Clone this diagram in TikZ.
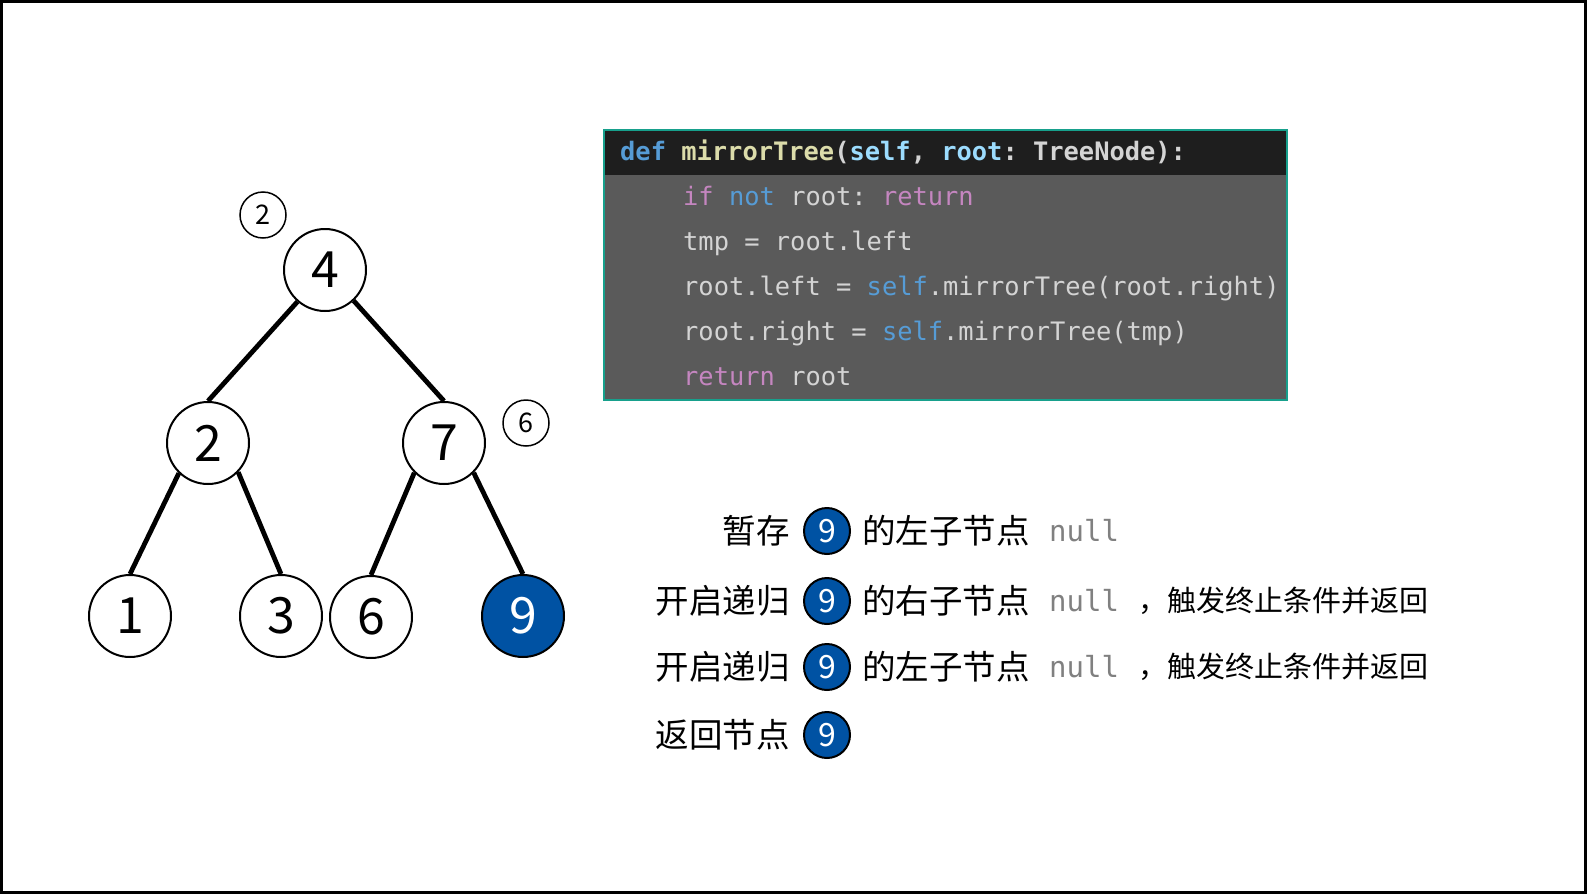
\documentclass[tikz,border=0pt]{standalone}
\usepackage{fontspec}
\setmonofont{DejaVu Sans Mono}
\newfontfamily\cjk{Noto Sans CJK SC}
\definecolor{nodeblue}{HTML}{0052A3}
\definecolor{kwblue}{HTML}{569CD6}
\definecolor{fnyellow}{HTML}{DCDCAA}
\definecolor{parblue}{HTML}{9CDCFE}
\definecolor{kwpink}{HTML}{C586C0}
\definecolor{codetext}{HTML}{D4D4D4}
\definecolor{headbg}{HTML}{1E1E1E}
\definecolor{bodybg}{HTML}{5A5A5A}
\definecolor{teal}{HTML}{17A08C}
\definecolor{nullgray}{HTML}{808080}
\tikzset{
  treenode/.style={circle, draw=black, line width=2pt, minimum size=82pt, inner sep=0pt, fill=white,
    font=\cjk\fontsize{50}{60}\selectfont},
  bluenode/.style={treenode, fill=nodeblue, text=white},
  smallcirc/.style={circle, draw=black, line width=1.5pt, minimum size=46pt, inner sep=0pt,
    font=\cjk\fontsize{27}{32}\selectfont},
  textcirc/.style={circle, draw=black, line width=2pt, minimum size=46pt, inner sep=0pt, fill=nodeblue, text=white,
    font=\cjk\fontsize{32}{38}\selectfont},
  edge/.style={line width=4.8pt, black},
  codeline/.style={anchor=base west, inner sep=0pt, text=codetext, font=\ttfamily\fontsize{25.4}{30}\selectfont},
  cjklabel/.style={inner sep=0pt, font=\cjk\fontsize{33.5}{40}\selectfont},
  cjktail/.style={inner sep=0pt, anchor=base west, font=\cjk\fontsize{29}{34}\selectfont},
  nulltext/.style={inner sep=0pt, anchor=base west, text=nullgray, font=\ttfamily\fontsize{29}{34}\selectfont},
}
\begin{document}
\begin{tikzpicture}[x=1pt, y=-1pt]
\useasboundingbox (0,0) rectangle (1587,894);
\fill[white] (0,0) rectangle (1587,894);
\draw[line width=3pt, black] (1.5,1.5) rectangle (1585.5,892.5);

% tree
\node[treenode] (n4) at (325,270) {4};
\node[treenode] (n2) at (208,443) {2};
\node[treenode] (n7) at (444,443) {7};
\node[treenode] (n1) at (130,616) {1};
\node[treenode] (n3) at (281,616) {3};
\node[treenode] (n6) at (371,617) {6};
\node[bluenode] (n9) at (523,616) {9};
\node[smallcirc] (s2) at (263,215) {2};
\node[smallcirc] (s6) at (526,423) {6};
\draw[edge] (n4.229) -- (n2.north);
\draw[edge] (n4.313) -- (n7.north);
\draw[edge] (n2.226) -- (n1.north);
\draw[edge] (n2.316) -- (n3.north);
\draw[edge] (n7.225) -- (n6.north);
\draw[edge] (n7.315) -- (n9.north);

% code box
\fill[bodybg] (604,130) rectangle (1287,400);
\fill[headbg] (604,130) rectangle (1287,175);
\draw[teal, line width=2pt] (604,130) rectangle (1287,400);
\node[codeline, font=\ttfamily\bfseries\fontsize{25.4}{30}\selectfont] (c0) at (620,160)
  {\textcolor{kwblue}{def} \textcolor{fnyellow}{mirrorTree}(\textcolor{parblue}{self}, \textcolor{parblue}{root}: TreeNode):};
\node[codeline] (c1) at (683,205) {\textcolor{kwpink}{if} \textcolor{kwblue}{not} root: \textcolor{kwpink}{return}};
\node[codeline] (c2) at (683,250) {tmp = root.left};
\node[codeline] (c3) at (683,295) {root.left = \textcolor{kwblue}{self}.mirrorTree(root.right)};
\node[codeline] (c4) at (683,340) {root.right = \textcolor{kwblue}{self}.mirrorTree(tmp)};
\node[codeline] (c5) at (683,385) {\textcolor{kwpink}{return} root};

% text rows
\node[textcirc] (r1c) at (827,531) {9};
\node[textcirc] (r2c) at (827,601) {9};
\node[textcirc] (r3c) at (827,667) {9};
\node[textcirc] (r4c) at (827,735) {9};

\node[cjklabel, anchor=base east] (r1a) at (790,543) {暂存};
\node[cjklabel, anchor=base west] (r1b) at (862,543) {的左子节点};
\node[nulltext] (r1n) at (1049,541) {null};

\node[cjklabel, anchor=base east] (r2a) at (790,613) {开启递归};
\node[cjklabel, anchor=base west] (r2b) at (862,613) {的右子节点};
\node[nulltext] (r2n) at (1049,611) {null};
\node[cjktail] (r2t) at (1138,611) {，触发终止条件并返回};

\node[cjklabel, anchor=base east] (r3a) at (790,679) {开启递归};
\node[cjklabel, anchor=base west] (r3b) at (862,679) {的左子节点};
\node[nulltext] (r3n) at (1049,677) {null};
\node[cjktail] (r3t) at (1138,677) {，触发终止条件并返回};

\node[cjklabel, anchor=base east] (r4a) at (790,747) {返回节点};
\end{tikzpicture}
\end{document}
